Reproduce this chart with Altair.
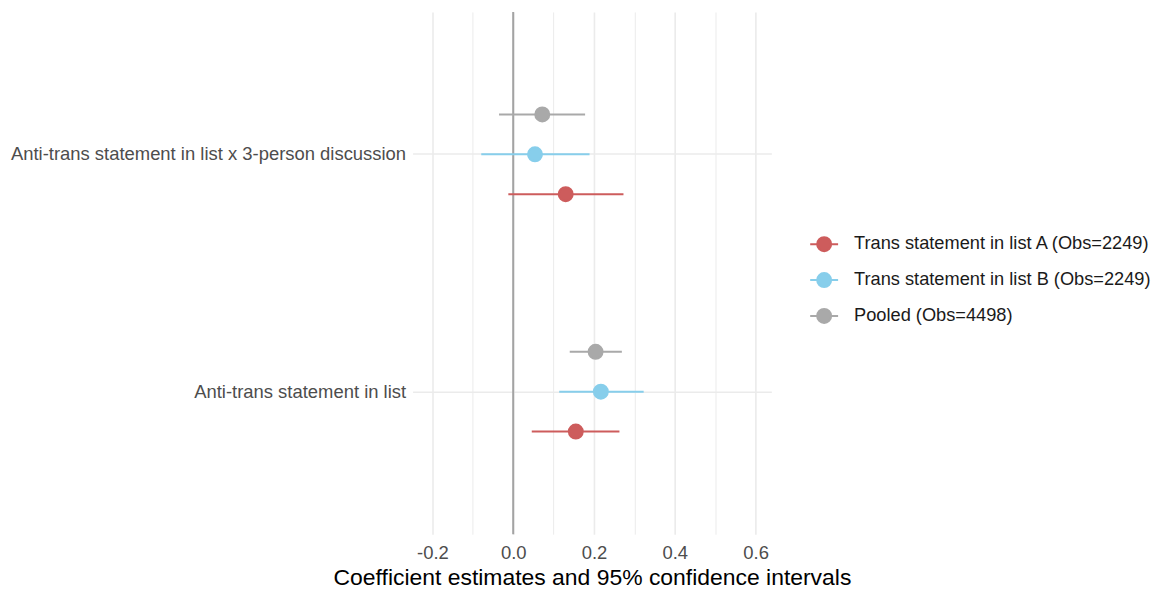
import altair as alt
import pandas as pd

terms = ["Anti-trans statement in list x 3-person discussion", "Anti-trans statement in list"]
models = ["Trans statement in list A (Obs=2249)", "Trans statement in list B (Obs=2249)", "Pooled (Obs=4498)"]
colors = ["#CD5C5C", "#87CEEB", "#A9A9A9"]

# estimates per model, in order of terms
est_A = [0.130, 0.155]
low_A = [-0.012, 0.046]
up_A = [0.273, 0.263]

est_B = [0.054, 0.217]
low_B = [-0.079, 0.114]
up_B = [0.189, 0.323]

est_P = [0.072, 0.204]
low_P = [-0.035, 0.140]
up_P = [0.178, 0.269]

x_ticks = [-0.2, -0.1, 0.0, 0.1, 0.2, 0.3, 0.4, 0.5, 0.6]

rows = []
for m, e, lo, hi in zip(models, [est_A, est_B, est_P], [low_A, low_B, low_P], [up_A, up_B, up_P]):
    for t, ei, li, hi_ in zip(terms, e, lo, hi):
        rows.append({"term": t, "model": m, "estimate": ei, "low": li, "high": hi_})
df = pd.DataFrame(rows)

FONT = "Liberation Sans"
off_order = [models[2], models[1], models[0]]

x_scale = alt.Scale(domain=[-0.249, 0.639], nice=False, zero=False)
y_scale = alt.Scale(domain=terms, paddingInner=0, paddingOuter=0.1)
off_scale = alt.Scale(domain=off_order, range=[59, 179], paddingInner=0, paddingOuter=0)
color_scale = alt.Scale(domain=models, range=colors)

x_axis = alt.Axis(
    values=x_ticks,
    title="Coefficient estimates and 95% confidence intervals",
    labelExpr="abs(round(datum.value*10)) % 2 == 0 ? replace(format(datum.value, '.1f'), '\u2212', '-') : ''",
    gridWidth=alt.ConditionalAxisNumber(condition={"test": "abs(round(datum.value*10)) % 2 == 1", "value": 1.0}, value=1.6),
    gridColor="#EBEBEB",
    ticks=False,
    domain=False,
    labelFontSize=18.5,
    labelColor="#4D4D4D",
    labelPadding=9,
    titleFontSize=23,
    titleColor="#000000",
    titleFontWeight="normal",
    titlePadding=5,
    labelFont=FONT,
    titleFont=FONT,
)
y_axis = alt.Axis(
    title=None,
    ticks=False,
    domain=False,
    grid=True,
    gridColor="#EBEBEB",
    gridWidth=1.6,
    bandPosition=0.5,
    labelFontSize=18.5,
    labelColor="#4D4D4D",
    labelPadding=7,
    labelLimit=600,
    labelFont=FONT,
)

legend = alt.Legend(
    title=None,
    orient="none",
    legendX=398,
    legendY=218,
    symbolType="M-1,0L1,0M-0.5,0A0.5,0.5 0 1,0 0.5,0A0.5,0.5 0 1,0 -0.5,0Z",
    symbolSize=784,
    symbolStrokeWidth=2,
    labelFontSize=18.3,
    labelColor="#1A1A1A",
    labelFont=FONT,
    labelOffset=15,
    labelLimit=600,
    rowPadding=10,
)

base = alt.Chart(df)

zero = alt.Chart(pd.DataFrame({"z": [0.0]})).mark_rule(color="#A3A3A3", strokeWidth=2).encode(
    x=alt.X("z:Q", scale=x_scale, axis=x_axis)
)

bars = base.mark_rule(strokeWidth=2).encode(
    x=alt.X("low:Q", scale=x_scale, axis=x_axis),
    x2="high:Q",
    y=alt.Y("term:N", scale=y_scale, axis=y_axis, sort=terms),
    yOffset=alt.YOffset("model:N", scale=off_scale, sort=off_order),
    color=alt.Color("model:N", scale=color_scale, legend=legend, sort=models),
)

pts = base.mark_point(filled=True, size=196, opacity=1).encode(
    x=alt.X("estimate:Q", scale=x_scale, axis=x_axis),
    y=alt.Y("term:N", scale=y_scale, axis=y_axis, sort=terms),
    yOffset=alt.YOffset("model:N", scale=off_scale, sort=off_order),
    color=alt.Color("model:N", scale=color_scale, legend=legend, sort=models),
    stroke=alt.Stroke("model:N", scale=color_scale, legend=legend, sort=models),
)

chart = alt.layer(zero, bars, pts).properties(
    width=360,
    height=524,
    autosize=alt.AutoSizeParams(type="none"),
    padding={"left": 406, "top": 3, "right": 383, "bottom": 54},
).configure(font=FONT).configure_view(stroke=None, strokeWidth=0)

chart.save("out.html", embed_options={"renderer": "svg", "actions": False})
